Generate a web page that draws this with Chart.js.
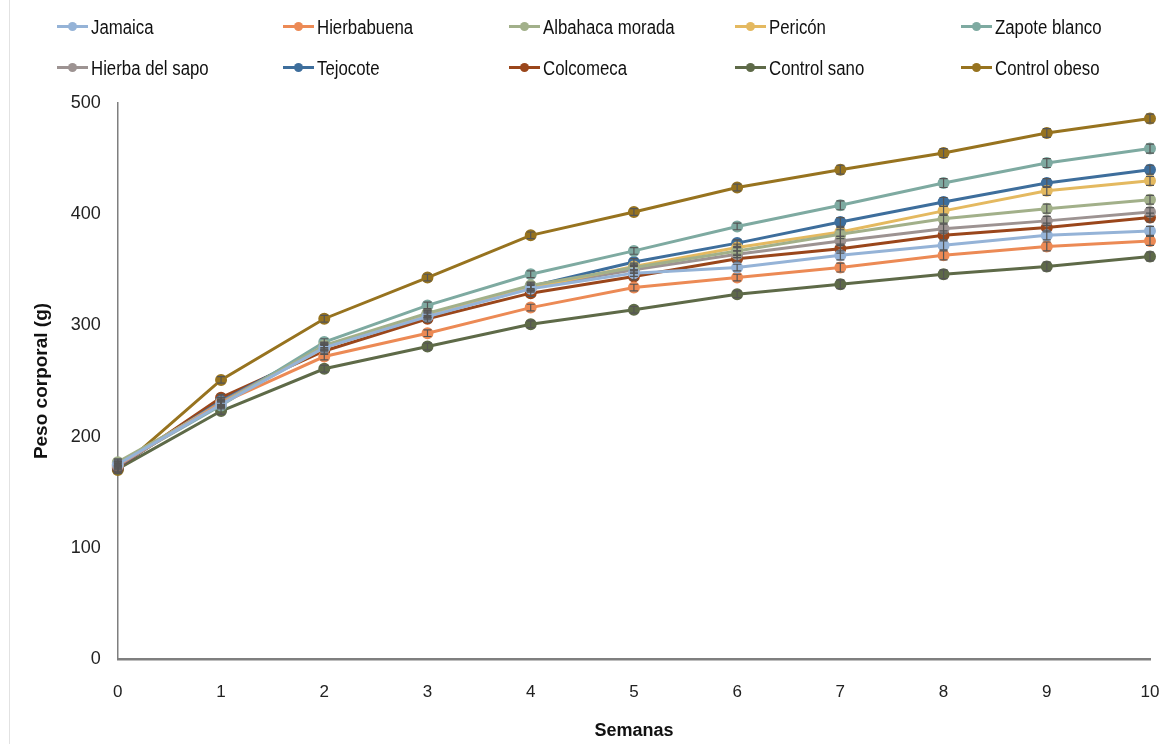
<!DOCTYPE html>
<html>
<head>
<meta charset="utf-8">
<script src="https://cdn.jsdelivr.net/npm/chart.js"></script>
<style>
    body { margin: 0; background: #fff; }
    #wrap { position: relative; width: 1170px; height: 744px; }
    #frame { position: absolute; left: 9px; top: 0; width: 1px; height: 744px; background: #e2e2e2; }
    #leyenda { position: absolute; left: 0; top: 0; width: 1170px; height: 90px; }
    .item { position: absolute; display: flex; align-items: center; height: 24px;
            font-family: 'Liberation Sans', Arial, sans-serif;
            font-size: 20px; color: #111; white-space: nowrap; }
    .item .txt { display: inline-block; transform: scaleX(0.84); transform-origin: left center; }
    .marca { position: relative; width: 31px; height: 24px; margin-right: 3px; }
    .marca .linea { position: absolute; left: 0; top: 10px; width: 31px; height: 3px; }
    .marca .punto { position: absolute; left: 11px; top: 7px; width: 9px; height: 9px; border-radius: 50%; }
    canvas { position: absolute; left: 0; top: 0; }
</style>
</head>
<body>
<div id="wrap">
    <div id="frame"></div>
    <canvas id="grafica" width="1170" height="744"></canvas>
    <div id="leyenda"></div>
</div>
<script>
// semanas del experimento
const semanas = ['0', '1', '2', '3', '4', '5', '6', '7', '8', '9', '10'];

// peso corporal (g) por grupo
const jamaica       = [175, 229, 280, 308, 333, 347, 352, 363, 372, 381, 385];
const hierbabuena   = [174, 230, 272, 293, 316, 334, 343, 352, 363, 371, 376];
const albahaca      = [177, 229, 282, 311, 336, 352, 367, 382, 396, 405, 413];
const pericon       = [176, 230, 280, 309, 334, 353, 370, 384, 403, 421, 430];
const zapoteBlanco  = [175, 228, 285, 318, 346, 367, 389, 408, 428, 446, 459];
const hierbaSapo    = [174, 231, 281, 310, 334, 350, 364, 376, 387, 394, 402];
const tejocote      = [173, 232, 281, 310, 335, 357, 374, 393, 411, 428, 440];
const colcomeca     = [172, 235, 277, 306, 329, 344, 360, 369, 381, 388, 397];
const controlSano   = [171, 223, 261, 281, 301, 314, 328, 337, 346, 353, 362];
const controlObeso  = [170, 251, 306, 343, 381, 402, 424, 440, 455, 473, 486];

// error estandar aproximado (g) por semana
const errorEst = [3, 3, 3, 3, 3, 3, 3, 4, 4, 4, 4];

const yTicks = [0, 100, 200, 300, 400, 500];

const grupos = [
    { nombre: 'Jamaica',         datos: jamaica,      color: '#95b3d7' },
    { nombre: 'Hierbabuena',     datos: hierbabuena,  color: '#ec8a55' },
    { nombre: 'Albahaca morada', datos: albahaca,     color: '#a2b08a' },
    { nombre: 'Pericón',         datos: pericon,      color: '#e4b960' },
    { nombre: 'Zapote blanco',   datos: zapoteBlanco, color: '#7eaaa1' },
    { nombre: 'Hierba del sapo', datos: hierbaSapo,   color: '#9d9392' },
    { nombre: 'Tejocote',        datos: tejocote,     color: '#3e6e9c' },
    { nombre: 'Colcomeca',       datos: colcomeca,    color: '#9a461b' },
    { nombre: 'Control sano',    datos: controlSano,  color: '#5e6a48' },
    { nombre: 'Control obeso',   datos: controlObeso, color: '#97731f' }
];

// leyenda en rejilla 5 x 2
const leyenda = document.getElementById('leyenda');
grupos.forEach((g, i) => {
    const col = i % 5, fila = Math.floor(i / 5);
    const div = document.createElement('div');
    div.className = 'item';
    div.style.left = (57 + col * 226) + 'px';
    div.style.top = (15 + fila * 41) + 'px';
    div.innerHTML = `<span class="marca"><span class="linea" style="background:${g.color}"></span>` +
                    `<span class="punto" style="background:${g.color}"></span></span><span class="txt">${g.nombre}</span>`;
    leyenda.appendChild(div);
});

// barras de error con tapas
const barrasError = {
    id: 'barrasError',
    afterDatasetsDraw(chart) {
        const ctx = chart.ctx;
        const y = chart.scales.y;
        chart.data.datasets.forEach((ds, i) => {
            const meta = chart.getDatasetMeta(i);
            ctx.save();
            ctx.strokeStyle = '#555';
            ctx.lineWidth = 1.2;
            meta.data.forEach((pt, j) => {
                const v = ds.data[j];
                const e = errorEst[j];
                const top = y.getPixelForValue(v + e);
                const bot = y.getPixelForValue(v - e);
                ctx.beginPath();
                ctx.moveTo(pt.x, top); ctx.lineTo(pt.x, bot);
                ctx.moveTo(pt.x - 4, top); ctx.lineTo(pt.x + 4, top);
                ctx.moveTo(pt.x - 4, bot); ctx.lineTo(pt.x + 4, bot);
                ctx.stroke();
            });
            ctx.restore();
        });
    }
};

const fuente = "'Liberation Sans', Arial, sans-serif";

new Chart(document.getElementById('grafica'), {
    type: 'line',
    data: {
        labels: semanas,
        datasets: grupos.map(g => ({
            label: g.nombre,
            data: g.datos,
            borderColor: g.color,
            backgroundColor: g.color,
            borderWidth: 3,
            pointRadius: 4.5,
            pointHoverRadius: 4.5,
            tension: 0
        }))
    },
    options: {
        responsive: false,
        animation: false,
        layout: { padding: { top: 103, right: 20, left: 30, bottom: 2 } },
        plugins: { legend: { display: false }, tooltip: { enabled: false } },
        scales: {
            x: {
                offset: false,
                afterFit: s => { s.paddingLeft = 0; s.paddingRight = 0; },
                grid: { display: false, drawTicks: false },
                border: { color: '#7f7f7f', width: 2.5 },
                ticks: { color: '#222', padding: 23, font: { family: fuente, size: 17 } },
                title: { display: true, text: 'Semanas', color: '#111', padding: { top: -5, bottom: 0 },
                         font: { family: fuente, size: 18, weight: 'bold' } }
            },
            y: {
                min: 0,
                max: 500,
                afterBuildTicks: axis => { axis.ticks = yTicks.map(v => ({ value: v })); },
                grid: { display: false, drawTicks: false },
                border: { color: '#7f7f7f', width: 1.5 },
                ticks: { color: '#222', padding: 17, font: { family: fuente, size: 18 } },
                title: { display: true, text: 'Peso corporal (g)', color: '#111', padding: { top: 0, bottom: 1 },
                         font: { family: fuente, size: 19, weight: 'bold' } }
            }
        }
    },
    plugins: [barrasError]
});
</script>
</body>
</html>
